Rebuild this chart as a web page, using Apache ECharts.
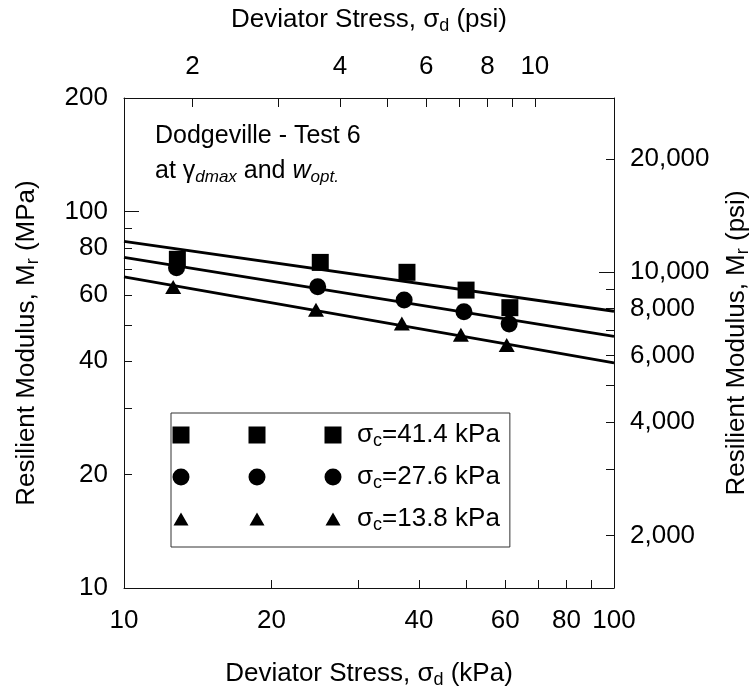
<!DOCTYPE html>
<html>
<head>
<meta charset="utf-8">
<script src="https://cdn.jsdelivr.net/npm/echarts@6/dist/echarts.min.js"></script>
<style>
html, body { margin: 0; padding: 0; background: #ffffff; }
#chart { width: 756px; height: 689px; }
</style>
</head>
<body>
<div id="chart"></div>
<script>
// ---------------- data ----------------
const seriesNames = ['σc=41.4 kPa', 'σc=27.6 kPa', 'σc=13.8 kPa'];

// deviator stress (kPa) and resilient modulus (MPa) of the measured points
const stressSquares   = [12.85, 25.15, 37.8, 49.9, 61.3];
const modulusSquares  = [74.6, 73.2, 68.9, 61.8, 55.5];
const stressCircles   = [12.8, 24.85, 37.3, 49.4, 61.1];
const modulusCircles  = [70.9, 63.1, 58.2, 54.1, 50.2];
const stressTriangles = [12.6, 24.65, 36.9, 48.7, 60.4];
const modulusTriangles= [63.0, 54.8, 50.4, 47.0, 44.2];

// fitted power-law lines, end values at 10 and 100 kPa
const fitStress    = [10, 100];
const fitSquares   = [83.3, 54.3];
const fitCircles   = [75.5, 46.6];
const fitTriangles = [67.0, 39.6];

// axes
const xMin = 10, xMax = 100, yMin = 10, yMax = 200;
const KPA_PER_PSI = 6.894757;
const PSI_PER_MPA = 145.0377;
const xTickValues   = [20, 30, 40, 50, 60, 70, 80, 90];
const xLabelValues  = [10, 20, 40, 60, 80, 100];
const topTickValues = [2, 3, 4, 5, 6, 7, 8, 9, 10];
const topLabelValues= [2, 4, 6, 8, 10];
const yMinorTicks   = [20, 30, 40, 50, 60, 70, 80, 90];
const yMajorTicks   = [100];
const yLabelValues  = [10, 20, 40, 60, 80, 100, 200];
const psiMinorTicks = [2000, 3000, 4000, 5000, 6000, 7000, 8000, 9000, 20000];
const psiMajorTicks = [10000];
const psiLabelValues= [2000, 4000, 6000, 8000, 10000, 20000];

// ---------------- styling ----------------
const FONT = '"Liberation Sans", Arial, sans-serif';
const FS = 26;
const LINE_COLOR = '#111';
function rich(fs) {
  const sub = Math.round(fs * 0.68);
  return {
    t:   { fontSize: fs, fontFamily: FONT, color: '#000', lineHeight: 30, verticalAlign: 'middle' },
    sub: { fontSize: sub, fontFamily: FONT, color: '#000', lineHeight: 12, verticalAlign: 'bottom' },
    ti:  { fontSize: fs, fontFamily: FONT, color: '#000', lineHeight: 30, verticalAlign: 'middle', fontStyle: 'italic' },
    si:  { fontSize: sub, fontFamily: FONT, color: '#000', lineHeight: 12, verticalAlign: 'bottom', fontStyle: 'italic' }
  };
}
const labelStyle = { fontSize: FS, fontFamily: FONT, color: '#000' };

function zip(xs, ys) { return xs.map((x, i) => [x, ys[i]]); }

function baseLogAxis(o) {
  return Object.assign({
    type: 'log', logBase: 10,
    axisLine: { show: true, onZero: false, lineStyle: { color: LINE_COLOR, width: 1 } },
    axisTick: { show: true, inside: true, length: 8, lineStyle: { color: LINE_COLOR, width: 1 } },
    minorTick: { show: false },
    splitLine: { show: false },
    nameMoveOverlap: false
  }, o);
}

const fmtComma = v => Math.round(v).toLocaleString('en-US');
const fmtPlain = v => String(Math.round(v));

// legend icons: three markers spread across the icon box (0..180 x 0..18)
const box = 'M0,0L0,0M180,18L180,18';
const centers = [9, 85, 161];
const iconSquares = 'path://' + box + centers.map(c => `M${c - 8.5},0.5h17v17h-17z`).join('');
const iconCircles = 'path://' + box + centers.map(c => `M${c - 8.5},9a8.5,8.5 0 1,0 17,0a8.5,8.5 0 1,0 -17,0z`).join('');
const iconTriangles = 'path://' + box + centers.map(c => `M${c - 7.5},15.5L${c},2.5L${c + 7.5},15.5z`).join('');
const legendIcons = [iconSquares, iconCircles, iconTriangles];

const markerStyle = { color: '#000', opacity: 1, borderWidth: 0 };

const chart = echarts.init(document.getElementById('chart'), null, { renderer: 'canvas' });

const option = {
  animation: false,
  backgroundColor: '#ffffff',
  grid: { left: 124, right: 142, top: 98, bottom: 101, outerBoundsMode: 'none', containLabel: false },
  title: [
    { text: 'Dodgeville - Test 6', left: 155, top: 124, padding: 0,
      textStyle: { fontSize: 25, fontWeight: 'normal', fontFamily: FONT, color: '#000' } },
    { text: '{t|at γ}{si|dmax}{t| and }{ti|w}{si|opt.}', left: 155, top: 156, padding: 0,
      textStyle: { fontWeight: 'normal', rich: rich(25) } }
  ],
  legend: {
    orient: 'vertical', left: 171, top: 413,
    data: seriesNames.map((n, i) => ({ name: n, icon: legendIcons[i], itemStyle: { color: '#000', opacity: 1 } })),
    itemWidth: 180, itemHeight: 18, itemGap: 14,
    padding: [9, 10, 13, 1],
    borderColor: '#333', borderWidth: 1, backgroundColor: '#fff',
    selectedMode: false,
    formatter: n => '{t|σ}{sub|c}{t|' + n.slice(2) + '}',
    textStyle: { rich: rich(26) }
  },
  xAxis: [
    baseLogAxis({
      position: 'bottom', min: xMin, max: xMax,
      axisTick: { show: true, inside: true, length: 8, customValues: xTickValues, lineStyle: { color: LINE_COLOR, width: 1 } },
      axisLabel: Object.assign({ customValues: xLabelValues, margin: 20, formatter: fmtPlain }, labelStyle),
      name: '{t|Deviator Stress, σ}{sub|d}{t| (kPa)}',
      nameLocation: 'middle', nameGap: 71,
      nameTextStyle: { rich: rich(FS) }
    }),
    baseLogAxis({
      position: 'top', min: xMin / KPA_PER_PSI, max: xMax / KPA_PER_PSI,
      axisTick: { show: true, inside: true, length: 9, customValues: topTickValues, lineStyle: { color: LINE_COLOR, width: 1 } },
      axisLabel: Object.assign({ customValues: topLabelValues, margin: 18, formatter: fmtPlain }, labelStyle),
      name: '{t|Deviator Stress, σ}{sub|d}{t| (psi)}',
      nameLocation: 'middle', nameGap: 63,
      nameTextStyle: { rich: rich(FS) }
    })
  ],
  yAxis: [
    baseLogAxis({
      position: 'left', min: yMin, max: yMax,
      axisTick: { show: true, inside: true, length: 8, customValues: yMinorTicks, lineStyle: { color: LINE_COLOR, width: 1 } },
      axisLabel: Object.assign({ customValues: yLabelValues, margin: 16, formatter: fmtPlain }, labelStyle),
      name: '{t|Resilient Modulus, M}{sub|r}{t| (MPa)}',
      nameLocation: 'middle', nameGap: 82, nameRotate: 90,
      nameTextStyle: { rich: rich(FS) }
    }),
    baseLogAxis({
      position: 'left', min: yMin, max: yMax, offset: 0,
      axisLine: { show: false },
      axisTick: { show: true, inside: true, length: 15, customValues: yMajorTicks, lineStyle: { color: LINE_COLOR, width: 1 } },
      axisLabel: { show: false }
    }),
    baseLogAxis({
      position: 'right', min: yMin * PSI_PER_MPA, max: yMax * PSI_PER_MPA,
      axisTick: { show: true, inside: true, length: 8, customValues: psiMinorTicks, lineStyle: { color: LINE_COLOR, width: 1 } },
      axisLabel: Object.assign({ customValues: psiLabelValues, margin: 16, formatter: fmtComma }, labelStyle),
      name: '{t|Resilient Modulus, M}{sub|r}{t| (psi)}',
      nameLocation: 'middle', nameGap: 108, nameRotate: 90,
      nameTextStyle: { rich: rich(FS) }
    }),
    baseLogAxis({
      position: 'right', min: yMin * PSI_PER_MPA, max: yMax * PSI_PER_MPA, offset: 0,
      axisLine: { show: false },
      axisTick: { show: true, inside: true, length: 15, customValues: psiMajorTicks, lineStyle: { color: LINE_COLOR, width: 1 } },
      axisLabel: { show: false }
    })
  ],
  series: [
    { name: 'fit-sq', type: 'line', data: zip(fitStress, fitSquares), symbol: 'none', silent: true,
      lineStyle: { color: '#000', width: 2.8, opacity: 1 }, z: 2 },
    { name: 'fit-ci', type: 'line', data: zip(fitStress, fitCircles), symbol: 'none', silent: true,
      lineStyle: { color: '#000', width: 2.8, opacity: 1 }, z: 2 },
    { name: 'fit-tr', type: 'line', data: zip(fitStress, fitTriangles), symbol: 'none', silent: true,
      lineStyle: { color: '#000', width: 2.8, opacity: 1 }, z: 2 },
    { name: seriesNames[0], type: 'scatter', data: zip(stressSquares, modulusSquares),
      symbol: 'rect', symbolSize: 17, itemStyle: markerStyle, z: 3 },
    { name: seriesNames[1], type: 'scatter', data: zip(stressCircles, modulusCircles),
      symbol: 'circle', symbolSize: 17, itemStyle: markerStyle, z: 3 },
    { name: seriesNames[2], type: 'scatter', data: zip(stressTriangles, modulusTriangles),
      symbol: 'triangle', symbolSize: [16, 14], itemStyle: markerStyle, z: 3 }
  ]
};

chart.setOption(option);
</script>
</body>
</html>
